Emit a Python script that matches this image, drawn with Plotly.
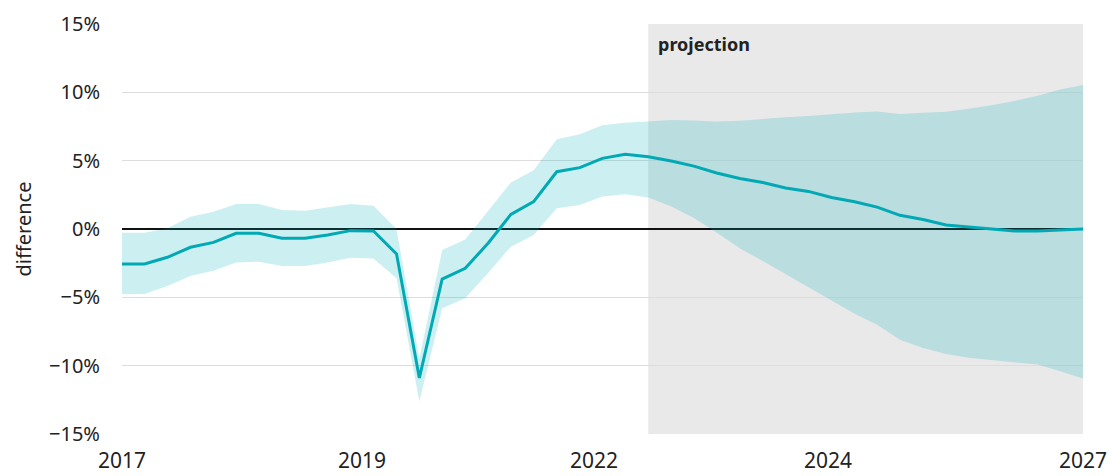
import plotly.graph_objects as go
import pandas as pd

# Quarterly observations, 2017Q1 .. 2027Q3
dates = pd.date_range("2017-01-01", periods=43, freq="QS").strftime("%Y-%m-%d").tolist()

central = [-2.56, -2.56, -2.07, -1.34, -0.98, -0.32, -0.32, -0.68, -0.68, -0.44, -0.12, -0.15, -1.83,
           -10.9, -3.66, -2.88, -1.02, 1.07, 2.0, 4.19, 4.49, 5.17, 5.46, 5.29, 4.98, 4.6, 4.1, 3.7,
           3.4, 3.0, 2.75, 2.3, 2.0, 1.6, 1.0, 0.7, 0.3, 0.15, 0.02, -0.15, -0.15, -0.08, 0.0]
upper = [-0.27, -0.27, 0.05, 0.9, 1.27, 1.83, 1.83, 1.39, 1.34, 1.59, 1.83, 1.71, 0.0,
         -9.5, -1.54, -0.76, 1.3, 3.4, 4.3, 6.56, 6.93, 7.6, 7.78, 7.9, 7.97, 7.93, 7.87, 7.92,
         8.06, 8.17, 8.27, 8.42, 8.53, 8.59, 8.42, 8.5, 8.58, 8.8, 9.05, 9.37, 9.75, 10.2, 10.54]
lower = [-4.78, -4.76, -4.17, -3.44, -3.05, -2.46, -2.39, -2.71, -2.71, -2.46, -2.1, -2.15, -3.6,
         -12.6, -5.8, -5.07, -3.2, -1.29, -0.44, 1.51, 1.76, 2.37, 2.54, 2.3, 1.65, 0.8, -0.25, -1.41,
         -2.35, -3.3, -4.25, -5.25, -6.2, -7.0, -8.1, -8.7, -9.15, -9.42, -9.6, -9.75, -9.92, -10.4, -10.93]

projection_start = "2022-10-01"
projection_end = "2027-07-01"

x_tick_vals = ["2017-01-01", "2019-08-16", "2022-02-27", "2024-09-17", "2027-07-01"]
x_tick_text = ["2017", "2019", "2022", "2024", "2027"]
y_tick_vals = [-15, -10, -5, 0, 5, 10, 15]
y_tick_text = ["\u221215%", "\u221210%", "\u22125%", "0%", "5%", "10%", "15%"]

FONT = "Noto Sans"
TEAL = "#00a9b4"
BAND = "rgba(0,176,188,0.2)"

fig = go.Figure()
fig.add_trace(go.Scatter(x=dates, y=lower, mode="lines", line=dict(width=0, color=BAND),
                         hoverinfo="skip", showlegend=False))
fig.add_trace(go.Scatter(x=dates, y=upper, mode="lines", line=dict(width=0, color=BAND),
                         fill="tonexty", fillcolor=BAND, hoverinfo="skip", showlegend=False))
fig.add_trace(go.Scatter(x=dates, y=central, mode="lines", line=dict(width=3, color=TEAL),
                         showlegend=False))

fig.add_shape(type="rect", xref="x", yref="y", x0=projection_start, x1=projection_end,
              y0=-15, y1=15, fillcolor="#e9e9e9", line=dict(width=0), layer="below")
fig.add_annotation(x=projection_start, y=1, xref="x", yref="paper", xanchor="left", yanchor="top",
                   xshift=8, yshift=-6, text="<b>projection</b>", showarrow=False,
                   font=dict(family=FONT, size=18, color="#222"))

fig.update_layout(
    width=1109, height=476,
    margin=dict(l=122, r=26, t=24, b=42),
    paper_bgcolor="white", plot_bgcolor="white",
    font=dict(family=FONT, color="#222"),
)
fig.update_xaxes(type="date", range=["2017-01-01", projection_end], tickvals=x_tick_vals,
                 ticktext=x_tick_text, showgrid=False, zeroline=False, showline=False,
                 ticks="", tickfont=dict(size=21, family=FONT, color="#222"),
                 ticklabelstandoff=12, automargin=False)
fig.update_yaxes(range=[-15, 15], tickvals=y_tick_vals, ticktext=y_tick_text,
                 showgrid=True, gridcolor="#dddddd", gridwidth=1,
                 zeroline=True, zerolinecolor="#111111", zerolinewidth=2,
                 showline=False, ticks="", tickfont=dict(size=20, family=FONT, color="#222"),
                 ticklabelstandoff=21, automargin=False,
                 title=dict(text="difference", standoff=12, font=dict(size=20, family=FONT, color="#222")))

fig.write_html("out.html", config={"displayModeBar": False},
               post_script="document.body.style.margin='0px';")
